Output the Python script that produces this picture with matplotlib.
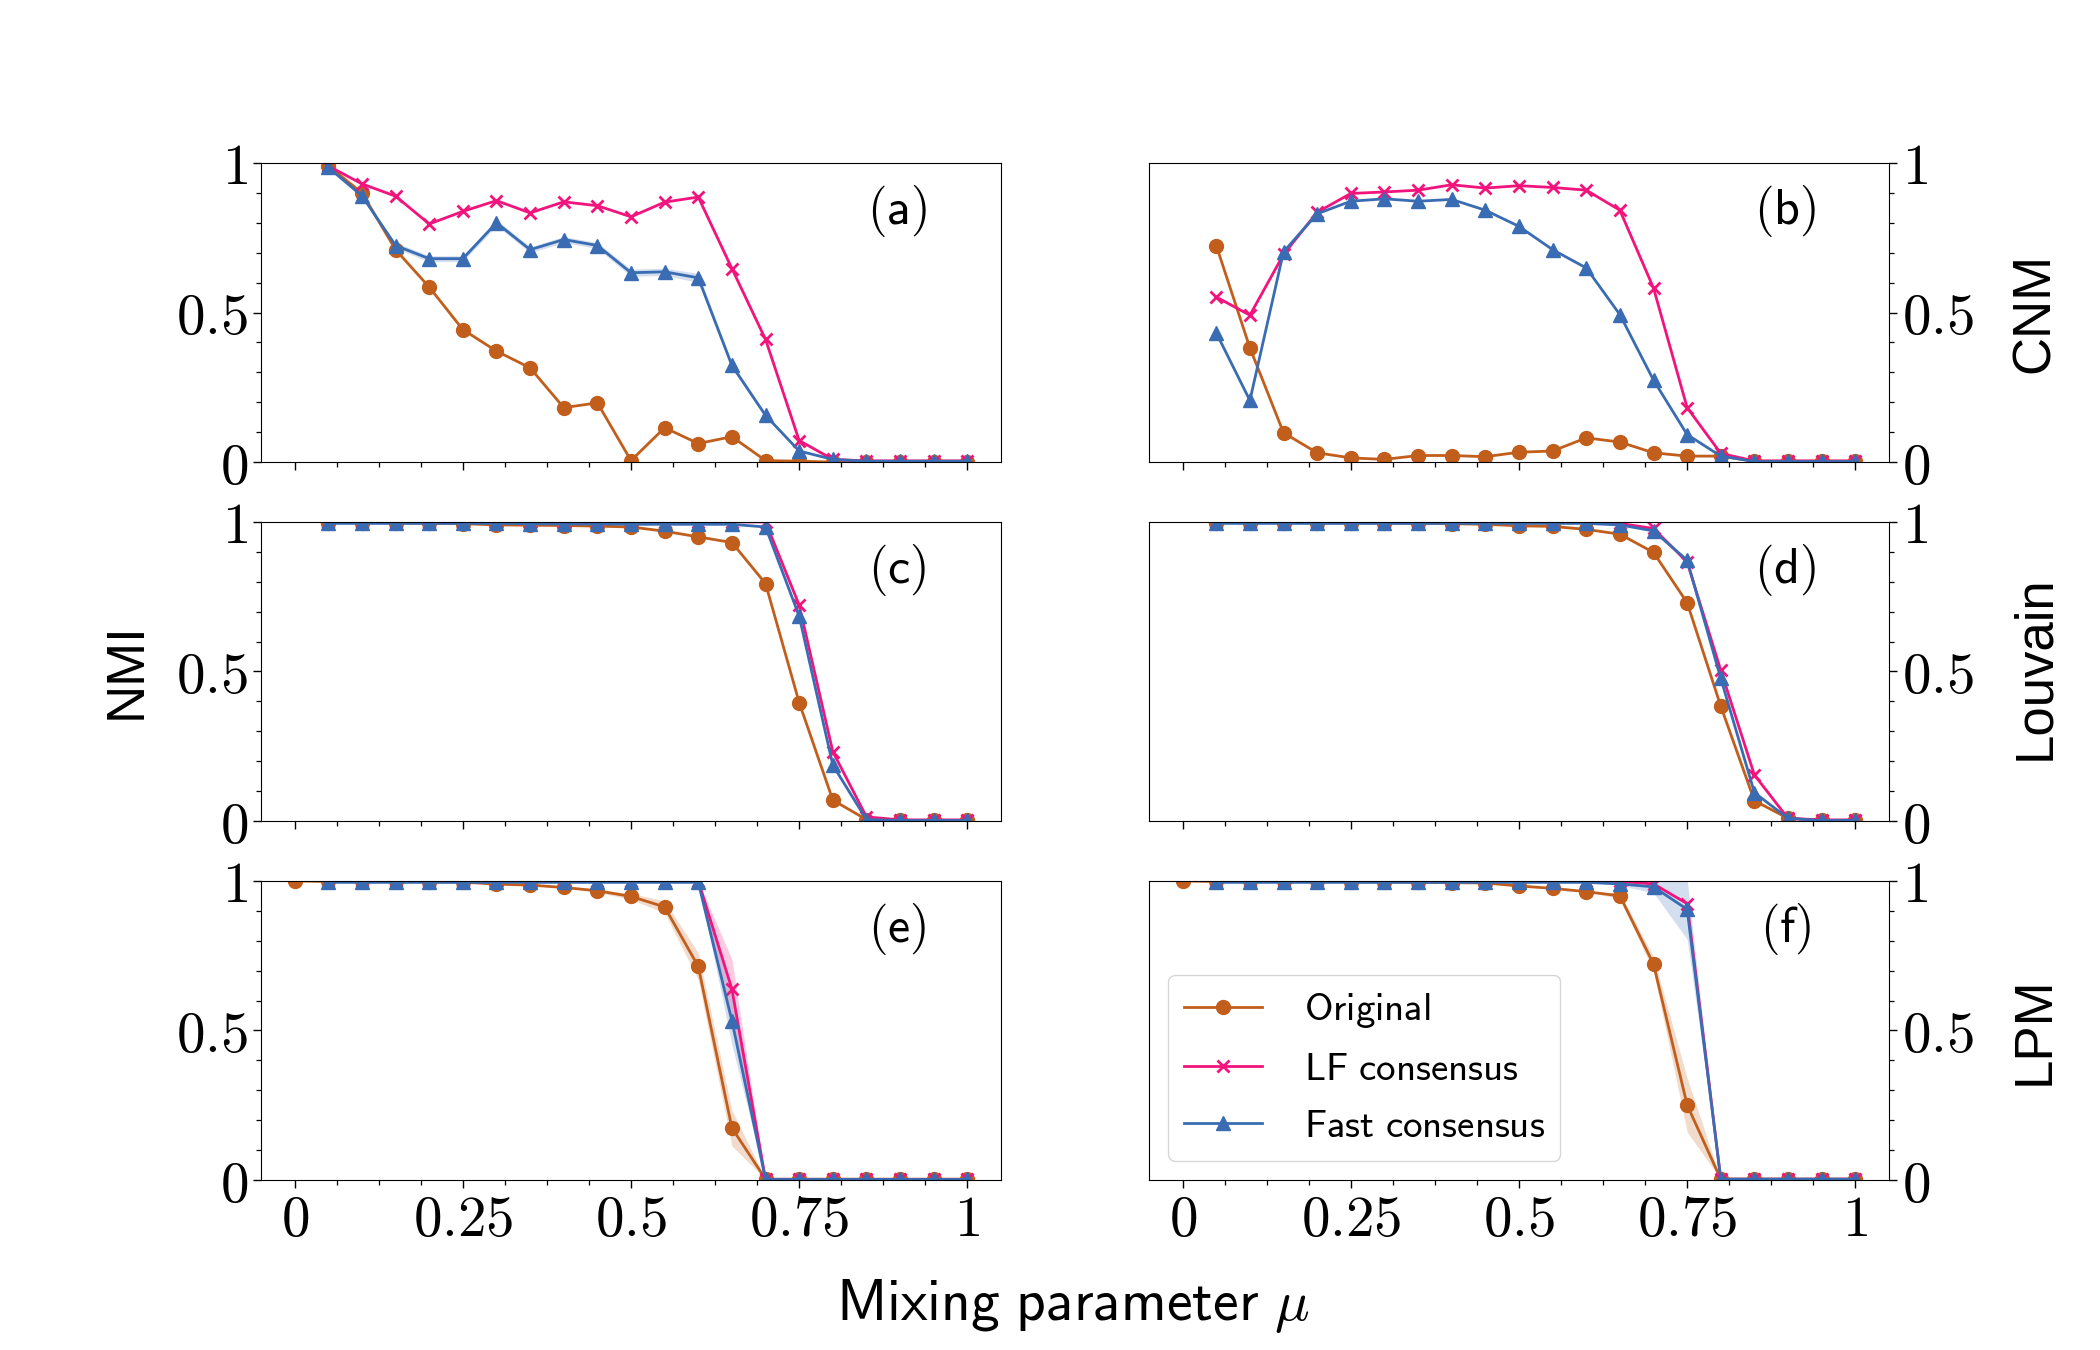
import numpy as np
import matplotlib.pyplot as plt
from matplotlib.ticker import MultipleLocator

plt.rcParams['mathtext.fontset'] = 'cm'

# mixing parameter values
mu = [0.05, 0.10, 0.15, 0.20, 0.25, 0.30, 0.35, 0.40, 0.45, 0.50,
      0.55, 0.60, 0.65, 0.70, 0.75, 0.80, 0.85, 0.90, 0.95, 1.00]
mu0 = [0.00] + mu  # LPM "Original" also has mu = 0

# (a) CNM, LF network
orig_a = [0.99, 0.90, 0.71, 0.585, 0.443, 0.371, 0.315, 0.182, 0.198, 0.005,
          0.115, 0.062, 0.085, 0.005, 0.003, 0, 0, 0, 0, 0]
lf_a = [0.99, 0.93, 0.889, 0.796, 0.838, 0.874, 0.833, 0.87, 0.857, 0.82,
        0.869, 0.886, 0.647, 0.41, 0.072, 0.009, 0.004, 0.004, 0.004, 0.004]
fast_a = [0.985, 0.89, 0.724, 0.68, 0.68, 0.80, 0.71, 0.744, 0.724, 0.633,
          0.636, 0.616, 0.323, 0.156, 0.037, 0.009, 0.003, 0.003, 0.003, 0.003]
fast_a_err = [0, 0, 0.01, 0.01, 0.01, 0.01, 0.01, 0.01, 0.01, 0.012,
              0.012, 0.015, 0.01, 0.005, 0, 0, 0, 0, 0, 0]

# (b) CNM, second benchmark
orig_b = [0.724, 0.382, 0.098, 0.031, 0.014, 0.009, 0.022, 0.022, 0.018, 0.033,
          0.037, 0.081, 0.067, 0.031, 0.02, 0.02, 0.003, 0.003, 0.003, 0.003]
lf_b = [0.552, 0.491, 0.694, 0.835, 0.898, 0.903, 0.909, 0.927, 0.916, 0.924,
        0.918, 0.909, 0.842, 0.582, 0.182, 0.029, 0.004, 0.004, 0.004, 0.004]
fast_b = [0.432, 0.206, 0.703, 0.83, 0.872, 0.88, 0.872, 0.878, 0.842, 0.788,
          0.71, 0.649, 0.493, 0.274, 0.092, 0.02, 0.002, 0.002, 0.002, 0.002]

# (c) Louvain
orig_c = [0.998, 0.998, 0.997, 0.996, 0.994, 0.99, 0.989, 0.988, 0.986, 0.983,
          0.969, 0.95, 0.931, 0.794, 0.396, 0.07, 0.005, 0.002, 0.002, 0.002]
lf_c = [1.0, 1.0, 1.0, 1.0, 1.0, 1.0, 1.0, 1.0, 1.0, 1.0,
        1.0, 1.0, 1.0, 1.0, 0.722, 0.232, 0.014, 0.004, 0.004, 0.004]
fast_c = [0.995, 0.995, 0.995, 0.995, 0.995, 0.995, 0.994, 0.993, 0.993, 0.992,
          0.992, 0.992, 0.992, 0.983, 0.685, 0.187, 0.005, 0.002, 0.002, 0.002]

# (d) Louvain
orig_d = [0.998, 0.998, 0.998, 0.997, 0.997, 0.996, 0.995, 0.994, 0.992, 0.987,
          0.985, 0.975, 0.959, 0.898, 0.73, 0.384, 0.068, 0.009, 0.002, 0.002]
lf_d = [1.0, 1.0, 1.0, 1.0, 1.0, 1.0, 1.0, 1.0, 1.0, 1.0,
        1.0, 0.998, 0.995, 0.978, 0.866, 0.504, 0.154, 0.009, 0.004, 0.004]
fast_d = [0.995, 0.995, 0.995, 0.995, 0.995, 0.995, 0.995, 0.995, 0.995, 0.995,
          0.995, 0.995, 0.99, 0.97, 0.872, 0.477, 0.095, 0.009, 0.002, 0.002]

# (e) LPM
orig_e = [1.0, 0.998, 0.998, 0.998, 0.997, 0.996, 0.989, 0.986, 0.978, 0.967, 0.948,
          0.913, 0.714, 0.174, 0.003, 0.003, 0.003, 0.003, 0.003, 0.003, 0.003]
orig_e_err = [0, 0, 0, 0, 0, 0, 0, 0, 0, 0.005, 0.01,
              0.02, 0.045, 0.06, 0, 0, 0, 0, 0, 0, 0]
lf_e = [1.0, 1.0, 1.0, 1.0, 1.0, 1.0, 1.0, 1.0, 1.0, 1.0,
        1.0, 1.0, 0.638, 0.002, 0.002, 0.002, 0.002, 0.002, 0.002, 0.002]
lf_e_err = [0, 0, 0, 0, 0, 0, 0, 0, 0, 0,
            0, 0, 0.1, 0, 0, 0, 0, 0, 0, 0]
fast_e = [0.995, 0.995, 0.995, 0.995, 0.995, 0.995, 0.995, 0.995, 0.995, 0.995,
          0.995, 0.995, 0.532, 0.002, 0.002, 0.002, 0.002, 0.002, 0.002, 0.002]
fast_e_err = [0, 0, 0, 0, 0, 0, 0, 0, 0, 0,
              0, 0, 0.08, 0, 0, 0, 0, 0, 0, 0]

# (f) LPM
orig_f = [1.0, 0.998, 0.998, 0.998, 0.998, 0.997, 0.996, 0.995, 0.994, 0.993, 0.983,
          0.975, 0.964, 0.95, 0.722, 0.251, 0.003, 0.003, 0.003, 0.003, 0.003]
orig_f_err = [0, 0, 0, 0, 0, 0, 0, 0, 0, 0, 0,
              0, 0, 0.01, 0.025, 0.09, 0, 0, 0, 0, 0]
lf_f = [1.0, 1.0, 1.0, 1.0, 1.0, 1.0, 1.0, 1.0, 1.0, 1.0,
        1.0, 1.0, 0.998, 0.99, 0.924, 0.003, 0.003, 0.003, 0.003, 0.003]
fast_f = [0.995, 0.995, 0.995, 0.995, 0.995, 0.995, 0.995, 0.995, 0.995, 0.995,
          0.995, 0.995, 0.99, 0.98, 0.905, 0.003, 0.003, 0.003, 0.003, 0.003]
fast_f_err = [0, 0, 0, 0, 0, 0, 0, 0, 0, 0,
              0, 0, 0.005, 0.02, 0.1, 0, 0, 0, 0, 0]

panel_tags = ['(a)', '(b)', '(c)', '(d)', '(e)', '(f)']
row_names = ['CNM', 'Louvain', 'LPM']
series_names = ['Original', 'LF consensus', 'Fast consensus']
colors = ['#c25e1c', '#f2137d', '#3a6cb3']
markers = ['o', 'x', '^']

panels = [
    (mu, orig_a, None, lf_a, None, fast_a, fast_a_err),
    (mu, orig_b, None, lf_b, None, fast_b, None),
    (mu, orig_c, None, lf_c, None, fast_c, None),
    (mu, orig_d, None, lf_d, None, fast_d, None),
    (mu0, orig_e, orig_e_err, lf_e, lf_e_err, fast_e, fast_e_err),
    (mu0, orig_f, orig_f_err, lf_f, None, fast_f, fast_f_err),
]

fig, axes = plt.subplots(3, 2, figsize=(21, 13.5), dpi=100)
fig.subplots_adjust(left=0.1243, right=0.8995, top=0.8793, bottom=0.1259,
                    hspace=0.2, wspace=0.2)

for k, ax in enumerate(axes.flat):
    xo, yo, eo, yl, el, yf, ef = panels[k]
    sets = [(xo, yo, eo), (mu, yl, el), (mu, yf, ef)]
    for (x, y, e), c, m, name in zip(sets, colors, markers, series_names):
        x = np.array(x)
        y = np.array(y)
        if e is not None:
            e = np.array(e)
            ax.fill_between(x, y - e, y + e, color=c, alpha=0.22, lw=0)
        ax.plot(x, y, color=c, marker=m, lw=2, ms=10 if m != 'x' else 9,
                mew=2 if m == 'x' else 1, label=r'$\mathsf{%s}$' % name.replace(' ', r'\ '))

    ax.set_xlim(-0.05, 1.05)
    ax.set_ylim(0, 1)
    ax.set_xticks([0, 0.25, 0.5, 0.75, 1])
    ax.set_xticklabels(['$0$', '$0.25$', '$0.5$', '$0.75$', '$1$'])
    ax.set_yticks([0, 0.5, 1])
    ax.set_yticklabels(['$0$', '$0.5$', '$1$'])
    ax.xaxis.set_minor_locator(MultipleLocator(0.0625))
    ax.yaxis.set_minor_locator(MultipleLocator(0.1))
    ax.tick_params(which='major', direction='out', length=6, width=1, labelsize=41)
    ax.tick_params(which='minor', direction='out', length=3.5, width=0.9)
    if k % 2 == 1:
        ax.yaxis.tick_right()
    if k < 4:
        ax.tick_params(labelbottom=False)
    ax.text(0.86, 0.84, r'$\mathsf{%s}$' % panel_tags[k], transform=ax.transAxes,
            ha='center', va='center', fontsize=36)

axes[2, 1].legend(loc='lower left', fontsize=28, handletextpad=1.08)

fig.text(0.0605, 0.503, 'NMI', rotation=90, ha='center', va='center',
         fontsize=38, family='Liberation Sans')
for name, yc in zip(row_names, [0.7685, 0.5055, 0.2367]):
    fig.text(0.969, yc, name, rotation=90, ha='center', va='center',
             fontsize=38, family='Liberation Sans')
fig.text(0.511, 0.0326, r'$\mathsf{Mixing\ parameter}\ \mu$', ha='center',
         va='center', fontsize=41.5)

plt.savefig('out.png', dpi=100)
plt.close()
